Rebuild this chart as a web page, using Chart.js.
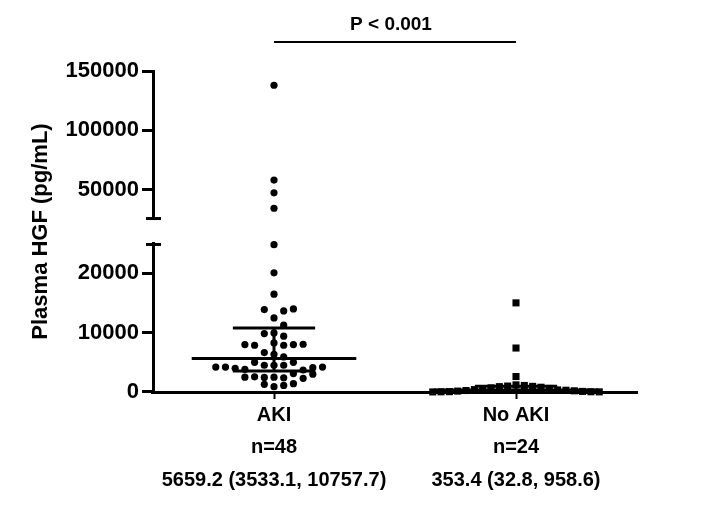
<!DOCTYPE html>
<html>
<head>
<meta charset="utf-8">
<script src="https://cdn.jsdelivr.net/npm/chart.js@4/dist/chart.umd.min.js"></script>
<style>
  html, body { margin: 0; padding: 0; background: #fff; }
  #wrap { width: 712px; height: 505px; }
</style>
</head>
<body>
<div id="wrap"><canvas id="chart"></canvas></div>
<script>
const categories = ['AKI', 'No AKI'];
const groupCounts = ['n=48', 'n=24'];
const groupSummaries = ['5659.2 (3533.1, 10757.7)', '353.4 (32.8, 958.6)'];
const medians = [5659.2, 353.4];
const lowerQuartiles = [3533.1, 32.8];
const upperQuartiles = [10757.7, 958.6];

// swarm: value of each dot and the column it sits in (0 = centre)
const akiValues = [138000, 58200, 47500, 34500, 24800, 20050, 16460,
  13990, 13880, 13650, 12470, 11240,
  9940, 9840, 9390, 8260, 7990, 7870, 7870, 7990, 8040, 6640, 6350, 5900,
  5000, 5000, 4500, 4500, 4500, 4200, 4200, 4000, 3800, 4100, 4200, 3700,
  2500, 2550, 2450, 2500, 2400, 2300, 3100, 3000, 1300, 900, 1100, 1400];
const akiSpread = [0, 0, 0, 0, 0, 0, 0,
  2, -1, 1, 0, 1,
  0, -1, 1, 0, -3, -2, 1, 2, 3, -1, 0, 1,
  -2, 2, -1, 0, 1, -6, -5, -4, -3, 4, 5, 3,
  -3, -2, -1, 0, 1, 3, 2, 4, -1, 0, 1, 2];

const noAkiValues = [15000, 7400, 2600,
  1200, 1000, 1100, 900, 950, 700, 800, 500, 600, 400, 353,
  250, 300, 150, 200, 60, 100, 30, 40, 10, 20];
const noAkiSpread = [0, 0, 0,
  0, -1, 1, -2, 2, -3, 3, -4, 4, -5, 5,
  -6, 6, -7, 7, -8, 8, -9, 9, -10, 10];

const lowTicks = [0, 10000, 20000];
const highTicks = [50000, 100000, 150000];
const breakAt = 25000;
const axisTop = 150000;
const pValueText = 'P < 0.001';

const FONT = '"Liberation Sans", Arial, sans-serif';
const akiStep = 0.0401;
const noAkiStep = 0.0344;

function swarm(values, spread, centre, step, upper) {
  const pts = [];
  values.forEach((v, i) => {
    if ((v > breakAt) === upper) pts.push({ x: centre + spread[i] * step, y: v });
  });
  return pts;
}

function bar(x0, x1, y0, y1) {
  return {
    type: 'line', yAxisID: 'yLow', data: [{ x: x0, y: y0 }, { x: x1, y: y1 }],
    borderColor: '#000', borderWidth: 3, pointRadius: 0, showLine: true, clip: false
  };
}

const datasets = [
  { data: swarm(akiValues, akiSpread, 1, akiStep, false), yAxisID: 'yLow',
    pointStyle: 'circle', pointRadius: 3.6, backgroundColor: '#000', borderWidth: 0, clip: false },
  { data: swarm(akiValues, akiSpread, 1, akiStep, true), yAxisID: 'yHigh',
    pointStyle: 'circle', pointRadius: 3.6, backgroundColor: '#000', borderWidth: 0, clip: false },
  { data: swarm(noAkiValues, noAkiSpread, 2, noAkiStep, false), yAxisID: 'yLow',
    pointStyle: 'rect', pointRadius: 5, backgroundColor: '#000', borderWidth: 0, clip: false }
];
categories.forEach((c, i) => {
  const cx = i + 1;
  datasets.push(bar(cx - 0.34, cx + 0.34, medians[i], medians[i]));
  datasets.push(bar(cx - 0.17, cx + 0.17, lowerQuartiles[i], lowerQuartiles[i]));
  datasets.push(bar(cx - 0.17, cx + 0.17, upperQuartiles[i], upperQuartiles[i]));
  datasets.push(bar(cx, cx, lowerQuartiles[i], upperQuartiles[i]));
});

const extras = {
  id: 'extras',
  afterDraw(chart) {
    const { ctx, scales } = chart;
    const x1 = scales.x.getPixelForValue(1);
    const x2 = scales.x.getPixelForValue(2);
    ctx.save();
    ctx.strokeStyle = '#000';
    ctx.lineWidth = 2;
    ctx.beginPath();
    ctx.moveTo(x1, 42);
    ctx.lineTo(x2, 42);
    ctx.stroke();
    ctx.fillStyle = '#000';
    ctx.font = 'bold 19px ' + FONT;
    ctx.textAlign = 'center';
    ctx.fillText(pValueText, (x1 + x2) / 2 - 4, 30);
    // caps at the axis break
    const ax = chart.chartArea.left;
    ctx.lineWidth = 3;
    [scales.yLow.top + 1, scales.yHigh.bottom - 1].forEach(y => {
      ctx.beginPath();
      ctx.moveTo(ax - 7, y);
      ctx.lineTo(ax + 8, y);
      ctx.stroke();
    });
    ctx.restore();
  }
};

const tickFont = { family: FONT, size: 22, weight: 'bold' };
function yAxis(min, max, ticks, weight, stackWeight) {
  return {
    type: 'linear', position: 'left', stack: 'y', stackWeight, weight,
    min, max,
    afterBuildTicks: s => { s.ticks = ticks.map(v => ({ value: v })); },
    afterFit: s => { s.width = 125; },
    border: { display: true, color: '#000', width: 3 },
    grid: { drawOnChartArea: false, tickLength: 11, tickWidth: 3, tickColor: '#000' },
    ticks: { color: '#000', font: tickFont, padding: 3, callback: v => String(v) }
  };
}

new Chart(document.getElementById('chart'), {
  type: 'scatter',
  data: { datasets },
  options: {
    responsive: true,
    maintainAspectRatio: false,
    animation: false,
    layout: { padding: { left: 28, right: 75, top: 71, bottom: 0 } },
    plugins: { legend: { display: false }, tooltip: { enabled: false } },
    scales: {
      x: {
        type: 'linear', min: 0.5, max: 2.5,
        afterBuildTicks: s => { s.ticks = categories.map((c, i) => ({ value: i + 1 })); },
        afterFit: s => { s.height = 113; },
        border: { display: true, color: '#000', width: 3 },
        grid: { drawOnChartArea: false, tickLength: 7, tickWidth: 2, tickColor: '#000' },
        ticks: {
          color: '#000', font: { family: FONT, size: 20, weight: 'bold', lineHeight: 1.63 },
          padding: 0, maxRotation: 0, autoSkip: false,
          callback: v => {
            const i = Math.round(v) - 1;
            return [categories[i], groupCounts[i], groupSummaries[i]];
          }
        }
      },
      yLow: yAxis(0, breakAt, lowTicks, 1, 148.4),
      yGap: {
        type: 'linear', position: 'left', stack: 'y', stackWeight: 23.9, weight: 2,
        min: 0, max: 1,
        afterFit: s => { s.width = 125; },
        border: { display: false },
        grid: { display: false },
        ticks: { display: false },
        title: { display: true, text: 'Plasma HGF (pg/mL)', color: '#000',
          font: { family: FONT, size: 22, weight: 'bold' }, padding: 0 }
      },
      yHigh: yAxis(breakAt, axisTop, highTicks, 3, 148.4)
    }
  },
  plugins: [extras]
});
</script>
</body>
</html>
